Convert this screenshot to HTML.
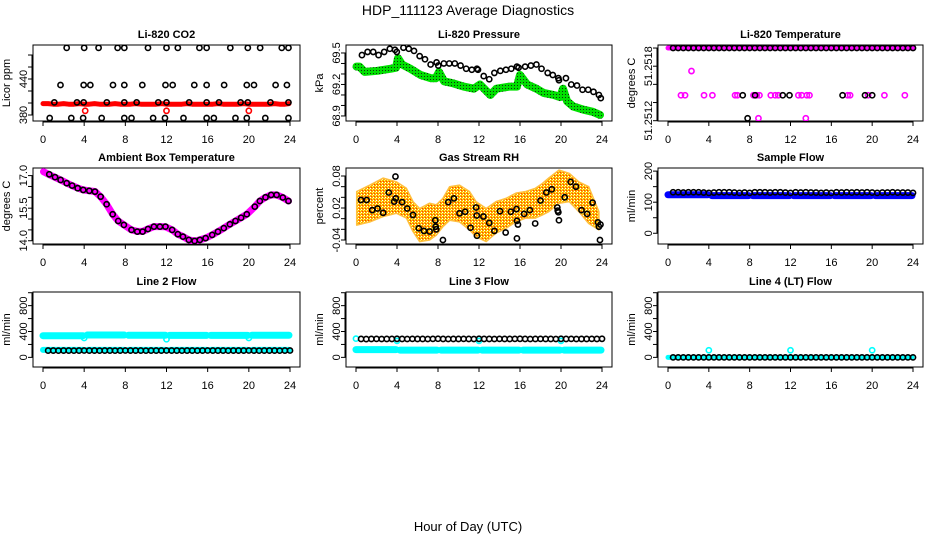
<!DOCTYPE html>
<html><head><meta charset="utf-8"><title>HDP_111123 Average Diagnostics</title>
<style>
html,body{margin:0;padding:0;background:#fff;}
svg{display:block;font-family:"Liberation Sans",Arial,sans-serif;}
</style></head>
<body>
<svg id="chart" width="936" height="540" viewBox="0 0 936 540" xmlns="http://www.w3.org/2000/svg">
<defs>
<pattern id="greenDots" width="3" height="3" patternUnits="userSpaceOnUse"><rect width="3" height="3" fill="#00e000"/><rect x="1" y="1" width="1" height="1" fill="#103010"/></pattern>
<pattern id="orangeCheck" width="3" height="3" patternUnits="userSpaceOnUse"><rect width="3" height="3" fill="#ffb000"/><rect width="1" height="1" fill="#ffff60"/><rect x="2" y="1" width="1" height="1" fill="#ff4000"/><rect x="1" y="2" width="1" height="1" fill="#ffffff"/></pattern>
</defs>
<text x="468" y="15" text-anchor="middle" font-size="14">HDP_111123  Average Diagnostics</text>
<text x="468" y="531" text-anchor="middle" font-size="13">Hour of Day (UTC)</text>
</svg>
<script>
// ---- shared hours ----
const halfHours = [0.5,1,1.5,2,2.5,3,3.5,4,4.5,5,5.5,6,6.5,7,7.5,8,8.5,9,9.5,10,10.5,11,11.5,12,12.5,13,13.5,14,14.5,15,15.5,16,16.5,17,17.5,18,18.5,19,19.5,20,20.5,21,21.5,22,22.5,23,23.5,24];
const bandHours = [0,0.5,1,1.5,2,2.5,3,3.5,4,4.5,5,5.5,6,6.5,7,7.5,8,8.5,9,9.5,10,10.5,11,11.5,12,12.5,13,13.5,14,14.5,15,15.5,16,16.5,17,17.5,18,18.5,19,19.5,20,20.5,21,21.5,22,22.5,23,23.5,23.9];
const xTicks = [0,4,8,12,16,20,24];
const blockStart = [0,4.3,8.3,12.3,16.3,20.3];
const blockEnd = [3.9,7.9,11.9,15.9,19.9,23.9];

// ---- CO2 ----
const co2Hours = [2.3,4.0,5.4,7.25,7.9,10.2,12.0,13.1,15.2,15.9,18.2,19.9,21.1,23.2,23.85, 1.7,3.95,4.6,6.8,7.9,9.65,11.9,12.6,14.7,15.9,17.6,19.8,20.5,22.6,23.7, 1.1,3.3,3.95,6.2,7.9,9.1,11.2,12.0,14.2,15.9,17.1,19.2,19.9,22.1,23.85, 0.65,2.75,3.9,5.7,7.9,8.6,10.7,11.85,13.65,15.9,16.6,18.7,19.8,21.6,23.85];
const co2Values = [492,492,492,492,492,492,492,492,492,492,492,492,492,492,492, 430,430,430,430,430,430,430,430,430,430,430,430,430,430,430, 401,401,401,401,401,401,401,401,401,401,401,401,401,401,401, 375,375,375,375,375,375,375,375,375,375,375,375,375,375,375];
const co2Red = [399,399,398,398,399,398,398,399,398,398,399,398,398,398,399,398,398,398,399,398,398,398,398,399,398,398,398,398,399,398,398,398,398,398,399,398,398,398,398,399,398,398,398,398,398,399,398,398,399];
const co2RedOutHours = [4.1,12.0,20.0];
const co2RedOutValues = [387,387,387];

// ---- Pressure ----
const presHours = [0.58,1.13,1.68,2.2,2.75,3.3,3.8,3.98,4.63,5.15,5.66,6.21,6.73,7.28,7.86,8.03,8.57,9.1,9.64,10.2,10.75,11.3,11.8,11.9,12.46,13.0,13.5,14.08,14.63,15.15,15.7,15.86,16.5,17.06,17.6,18.1,18.7,19.2,19.74,19.8,20.48,21.0,21.56,22.1,22.65,23.17,23.7,23.88];
const presValues = [69.48,69.51,69.51,69.48,69.51,69.54,69.53,69.51,69.55,69.54,69.52,69.47,69.44,69.39,69.41,69.38,69.40,69.40,69.40,69.38,69.35,69.34,69.35,69.34,69.28,69.25,69.31,69.33,69.34,69.35,69.37,69.36,69.37,69.38,69.39,69.35,69.31,69.29,69.26,69.24,69.26,69.20,69.19,69.15,69.15,69.13,69.10,69.07];
const presGreenHours = [0.05,0.33,0.85,2.1,3.4,3.9,4.1,4.5,5.3,6.3,7.3,7.8,8.1,8.6,9.5,10.5,11.5,12.1,12.5,13.1,13.7,15.0,15.7,16.0,16.7,17.6,18.3,19.3,19.9,20.2,20.6,21.2,22.2,23.1,23.8];
const presGreenValues = [69.37,69.37,69.32,69.33,69.35,69.36,69.45,69.39,69.35,69.29,69.26,69.26,69.32,69.23,69.21,69.18,69.16,69.20,69.16,69.10,69.16,69.18,69.18,69.29,69.20,69.16,69.12,69.10,69.08,69.16,69.04,68.99,68.96,68.94,68.91];

// ---- Li-820 temperature ----
const tempTopValue = [51.2518];
const tempMagHours = [1.27,1.67,2.3,3.53,4.35,6.57,6.8,8.37,8.7,8.96,10.07,10.5,10.8,12.77,13.1,13.6,13.86,17.6,17.84,19.6,21.2,23.2,8.86,13.5];
const tempMagValues = [51.25141,51.25141,51.25161,51.25141,51.25141,51.25141,51.25141,51.25141,51.25141,51.25141,51.25141,51.25141,51.25141,51.25141,51.25141,51.25141,51.25141,51.25141,51.25141,51.25141,51.25141,51.25141,51.25122,51.25122];
const tempBlackHours = [7.32,8.53,11.24,11.9,17.1,19.3,20.0,7.8];
const tempBlackValues = [51.25141,51.25141,51.25141,51.25141,51.25141,51.25141,51.25141,51.25122];

// ---- Ambient box temperature ----
const ambHours = [0.61,1.17,1.71,2.3,2.83,3.37,3.91,4.5,5.05,5.6,6.18,6.77,7.31,7.86,8.6,9.16,9.68,10.2,10.78,11.36,11.9,12.55,13.1,13.6,14.17,14.73,15.24,15.8,16.44,17.0,17.57,18.16,18.7,19.25,19.8,20.58,21.07,21.62,22.17,22.7,23.3,23.85];
const ambValues = [17.06,16.93,16.80,16.65,16.54,16.42,16.34,16.30,16.26,16.03,15.68,15.22,14.91,14.73,14.50,14.42,14.42,14.54,14.65,14.65,14.65,14.50,14.30,14.19,14.04,13.99,14.04,14.12,14.27,14.42,14.58,14.76,14.91,15.06,15.22,15.57,15.83,16.0,16.11,16.11,15.99,15.83];
const ambMagHours = [0.05,0.3,0.61,1.17,1.71,2.3,2.83,3.37,3.91,4.5,5.05,5.6,6.18,6.77,7.31,7.86,8.6,9.16,9.68,10.2,10.78,11.36,11.9,12.55,13.1,13.6,14.17,14.73,15.24,15.8,16.44,17.0,17.57,18.16,18.7,19.25,19.8,20.58,21.07,21.62,22.17,22.7,23.3,23.85];
const ambMagValues = [17.18,17.12,17.04,16.92,16.80,16.66,16.54,16.43,16.34,16.30,16.27,16.03,15.68,15.22,14.91,14.73,14.50,14.43,14.43,14.54,14.65,14.65,14.64,14.50,14.30,14.19,14.04,13.99,14.04,14.12,14.27,14.42,14.58,14.76,14.91,15.06,15.22,15.57,15.83,16.0,16.11,16.11,15.99,15.83];

// ---- Gas stream RH ----
const rhHours = [0.49,1.04,1.59,2.1,2.65,3.2,3.72,3.85,3.88,4.5,5.0,5.56,6.12,6.63,7.18,7.74,7.77,7.83,8.48,9.0,9.55,10.1,10.65,11.17,11.72,11.78,11.8,12.43,13.0,13.5,14.05,14.6,15.1,15.66,15.7,15.8,15.7,16.4,16.96,17.48,18.0,18.57,19.1,19.64,19.68,19.74,19.8,20.36,20.94,21.46,22.0,22.55,23.08,23.6,23.7,23.8,23.85];
const rhValues = [0.035,0.035,0.016,0.019,0.011,0.049,0.032,0.079,0.038,0.031,0.019,0.007,-0.018,-0.023,-0.024,-0.003,-0.015,-0.02,-0.04,0.031,0.038,0.01,0.013,-0.017,0.021,0.006,-0.032,0.004,-0.008,-0.023,0.014,-0.026,0.013,0.018,-0.004,-0.011,-0.037,0.009,0.016,-0.009,0.034,0.049,0.055,0.021,0.015,0.012,-0.003,0.04,0.069,0.06,0.016,0.009,0.03,-0.007,-0.015,-0.04,-0.011];
const rhCloudHours = [0.07,1.36,2.65,3.95,4.92,5.56,6.2,7.18,7.83,8.48,9.13,10.1,11.07,11.72,12.7,13.66,14.63,15.6,16.57,17.5,18.19,18.8,19.8,20.8,21.75,22.7,23.7];
const rhCloudUpper = [0.051,0.063,0.076,0.069,0.057,0.032,0.019,0.029,0.026,0.038,0.06,0.063,0.051,0.032,0.019,0.032,0.038,0.048,0.051,0.057,0.066,0.076,0.091,0.085,0.069,0.06,0.013];
const rhCloudLower = [-0.012,-0.006,0.004,0.01,0.001,-0.024,-0.043,-0.04,-0.031,-0.015,-0.003,-0.006,-0.021,-0.034,-0.043,-0.027,-0.018,-0.006,0.001,0.001,0.007,0.013,0.029,0.032,0.013,-0.009,-0.021];

// ---- Sample flow ----
const sampleBlack = [132,132,131,132,132,132,131,130,131,132,132,132,131,130,131,130,132,132,132,131,132,132,131,130,132,131,132,131,131,130,131,130,132,131,132,131,132,131,132,131,130,131,131,132,131,131,131,130];
const sampleBlue = [124,121,121,121,121,121];

// ---- Line flows ----
const line2Black = [105,105,104,105,105,104,105,106,105,105,104,105,105,104,105,106,105,105,105,104,105,105,105,106,105,105,104,105,105,104,105,106,105,105,105,104,105,105,105,106,105,104,105,105,105,104,105,106];
const line2CyanHigh = [335,345,342,340,340,342];
const line2CyanLow = [115,115,115,115,115,115];
const line2OutHours = [4,12,20];
const line2OutValues = [300,280,300];
const line3Black = [285,283,285,286,284,285,285,287,285,284,286,285,285,284,286,288,285,284,285,285,286,285,284,287,285,285,284,286,285,285,286,287,285,284,285,286,285,285,284,287,285,286,284,285,285,286,285,287];
const line3Cyan = [120,112,112,112,112,112];
const line3OutHours = [0,4,12,20];
const line3OutValues = [290,255,255,255];
const line4Black = [0,0,0,0,0,0,0,0,0,0,0,0,0,0,0,0,0,0,0,0,0,0,0,0,0,0,0,0,0,0,0,0,0,0,0,0,0,0,0,0,0,0,0,0,0,0,0,0];
const line4Cyan = [0,0,0,0,0,0];
const line4OutHours = [4,12,20];
const line4OutValues = [110,110,110];

const svg = document.getElementById('chart');
const NS = 'http://www.w3.org/2000/svg';
function mk(tag, attrs, parent){
  const e = document.createElementNS(NS, tag);
  for (const k in attrs) e.setAttribute(k, attrs[k]);
  (parent||svg).appendChild(e);
  return e;
}
const cols = [{l:33,r:300,x0:43,x24:290},{l:346,r:612,x0:356,x24:602},{l:658,r:923,x0:668,x24:913}];
const rows = [{t:45,b:121},{t:168,b:244},{t:292,b:367}];

function makePanel(c, r, name, title, ylab, ymin, ymax, ticks, labels){
  const C = cols[c], R = rows[r];
  const g = mk('g', {});
  
  
  const sx = h => C.x0 + (C.x24 - C.x0) * h / 24;
  const sy = v => R.b - (R.b - R.t) * (v - ymin) / (ymax - ymin);
  const box = mk('rect', {x:C.l, y:R.t, width:C.r-C.l, height:R.b-R.t, fill:'none', stroke:'#000', 'stroke-width':1}, g);
  
  
  const tt = mk('text', {x:(C.l+C.r)/2, y:R.t-7, 'text-anchor':'middle', 'font-size':11, 'font-weight':'bold'}, g);
  tt.textContent = title;
  
  
  const yl = mk('text', {transform:`translate(${C.l-23},${(R.t+R.b)/2}) rotate(-90)`, 'text-anchor':'middle', 'font-size':11}, g);
  yl.textContent = ylab;
  
  
  const xa = mk('g', {}, g);
  
  
  mk('line', {x1:sx(0), x2:sx(24), y1:R.b+1, y2:R.b+1, stroke:'#000'}, xa);
  xTicks.forEach(h => {
    mk('line', {x1:sx(h), x2:sx(h), y1:R.b, y2:R.b+5, stroke:'#000'}, xa);
    const t = mk('text', {x:sx(h), y:R.b+22, 'text-anchor':'middle', 'font-size':11}, xa);
    t.textContent = h;
  });
  const ya = mk('g', {}, g);
  
  
  mk('line', {x1:C.l-1, x2:C.l-1, y1:sy(ticks[0]), y2:sy(ticks[ticks.length-1]), stroke:'#000'}, ya);
  ticks.forEach((v,i) => {
    mk('line', {x1:C.l-5, x2:C.l, y1:sy(v), y2:sy(v), stroke:'#000'}, ya);
    if (labels[i]) {
      const t = mk('text', {transform:`translate(${C.l-6},${sy(v)}) rotate(-90)`, 'text-anchor':'middle', 'font-size':11}, ya);
      t.textContent = labels[i];
    }
  });
  const clip = 'clip' + c + r;
  const cp = mk('clipPath', {id:clip}, g);
  mk('rect', {x:C.l, y:R.t, width:C.r-C.l, height:R.b-R.t}, cp);
  const d = mk('g', {'clip-path':`url(#${clip})`}, g);
  return {sx, sy, d, name};
}
function pts(P, hs, vs, color, label, rad){
  const grp = mk('g', {}, P.d);
  
  
  hs.forEach((h,i) => {
    const c = mk('circle', {cx:P.sx(h), cy:P.sy(vs[i]), r:rad||2.6, fill:'none', stroke:color, 'stroke-width':1.6}, grp);
    
    
  });
}
function band(P, hs, vs, color, width, label){
  const p = hs.map((h,i) => P.sx(h).toFixed(1) + ',' + P.sy(vs[i]).toFixed(1)).join(' ');
  const pl = mk('polyline', {points:p, fill:'none', stroke:color, 'stroke-width':width, 'stroke-linejoin':'round', 'stroke-linecap':'round'}, P.d);
  
  
}
function blocks(P, vals, color, width, label){
  vals.forEach((v,i) => {
    const ln = mk('line', {x1:P.sx(blockStart[i]), x2:P.sx(blockEnd[i]), y1:P.sy(v), y2:P.sy(v), stroke:color, 'stroke-width':width, 'stroke-linecap':'round'}, P.d);
    
    
  });
}

// Panel 1: CO2
let P = makePanel(0,0,'co2','Li-820 CO2','Licor ppm',370,496.7,[380,400,420,440,460,480],['380','','','440','','']);
band(P, bandHours, co2Red, '#ff0000', 5, 'red-band');
pts(P, co2RedOutHours, co2RedOutValues, '#ff0000', 'red-outliers');
pts(P, co2Hours, co2Values, '#000', 'black-points');

// Panel 2: Pressure
P = makePanel(1,0,'pressure','Li-820 Pressure','kPa',68.852,69.576,[68.9,69.0,69.1,69.2,69.3,69.4,69.5],['68.9','','','69.2','','','69.5']);
band(P, presGreenHours, presGreenValues, 'url(#greenDots)', 8, 'green-band');
pts(P, presHours, presValues, '#000', 'black-points');

// Panel 3: Li-820 Temperature
P = makePanel(2,0,'li820-temperature','Li-820 Temperature','degrees C',51.2511975,51.251825,[51.2512,51.25135,51.2515,51.25165,51.2518],['51.2512','','','51.2518','']);
band(P, [0,24], [tempTopValue[0],tempTopValue[0]], '#ff00ff', 5, 'magenta-band');
pts(P, tempMagHours, tempMagValues, '#ff00ff', 'magenta-points');
pts(P, halfHours, halfHours.map(() => tempTopValue[0]), '#000', 'black-top-points');
pts(P, tempBlackHours, tempBlackValues, '#000', 'black-points');

// Panel 4: Ambient
P = makePanel(0,1,'ambient-temperature','Ambient Box Temperature','degrees C',13.85,17.35,[14.0,14.5,15.0,15.5,16.0,16.5,17.0],['14.0','','','15.5','','','17.0']);
band(P, ambMagHours, ambMagValues, '#ff00ff', 7, 'magenta-band');
pts(P, ambHours, ambValues, '#000', 'black-points');

// Panel 5: RH
P = makePanel(1,1,'gas-stream-rh','Gas Stream RH','percent',-0.0475,0.095,[-0.04,-0.02,0,0.02,0.04,0.06,0.08],['-0.04','','','0.02','','','0.08']);
{
  const up = rhCloudHours.map((h,i) => P.sx(h).toFixed(1)+','+P.sy(rhCloudUpper[i]).toFixed(1));
  const lo = rhCloudHours.map((h,i) => P.sx(h).toFixed(1)+','+P.sy(rhCloudLower[i]).toFixed(1)).reverse();
  const poly = mk('polygon', {points:up.concat(lo).join(' '), fill:'url(#orangeCheck)', stroke:'#ffc040', 'stroke-width':1.5, 'stroke-linejoin':'round'}, P.d);
  
  
}
pts(P, rhHours, rhValues, '#000', 'black-points');

// Panel 6: Sample flow
P = makePanel(2,1,'sample-flow','Sample Flow','ml/min',-34.5,210,[0,50,100,150,200],['0','','100','','200']);
blocks(P, sampleBlue, '#0000ff', 7, 'blue-band');
pts(P, halfHours, sampleBlack, '#000', 'black-points');

// Panel 7: Line 2
P = makePanel(0,2,'line2-flow','Line 2 Flow','ml/min',-149,1011,[0,200,400,600,800,1000],['0','','400','','800','']);
blocks(P, line2CyanHigh, '#00ffff', 7, 'cyan-high-band');
blocks(P, line2CyanLow, '#00ffff', 6, 'cyan-low-band');
pts(P, line2OutHours, line2OutValues, '#00ffff', 'cyan-outliers');
pts(P, halfHours, line2Black, '#000', 'black-points');

// Panel 8: Line 3
P = makePanel(1,2,'line3-flow','Line 3 Flow','ml/min',-149,1011,[0,200,400,600,800,1000],['0','','400','','800','']);
blocks(P, line3Cyan, '#00ffff', 7, 'cyan-band');
pts(P, line3OutHours, line3OutValues, '#00ffff', 'cyan-outliers');
pts(P, halfHours, line3Black, '#000', 'black-points');

// Panel 9: Line 4
P = makePanel(2,2,'line4-flow','Line 4 (LT) Flow','ml/min',-149,1011,[0,200,400,600,800,1000],['0','','400','','800','']);
blocks(P, line4Cyan, '#00ffff', 5, 'cyan-band');
pts(P, line4OutHours, line4OutValues, '#00ffff', 'cyan-outliers');
pts(P, halfHours, line4Black, '#000', 'black-points');
</script>
</body></html>
